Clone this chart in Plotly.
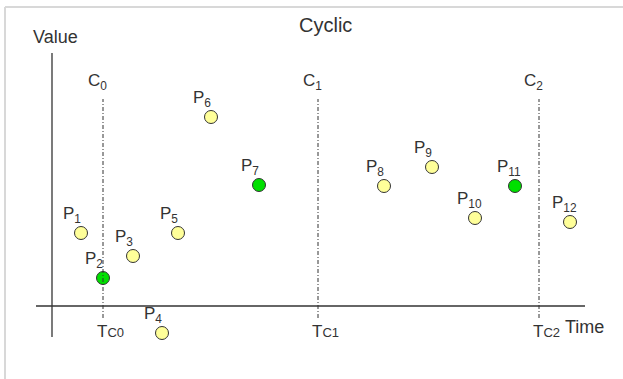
import plotly.graph_objects as go

# sample points (time, value) and which ones fall on a cycle boundary
labels = ['P1', 'P2', 'P3', 'P4', 'P5', 'P6', 'P7', 'P8', 'P9', 'P10', 'P11', 'P12']
times = [29, 51, 81, 110, 126, 159, 207, 332, 380, 423, 463, 518]
values = [73, 28, 50, -27, 73, 189, 121, 120, 139, 88, 120, 84]
on_cycle = [False, True, False, False, False, False, True, False, False, False, True, False]

# cycle boundaries
cycles = ['C0', 'C1', 'C2']
cycle_times = [51, 266, 487]

yellow = '#ffff99'
green = '#00e000'
txt = '#333333'
fnt = 'Liberation Sans, Arial, sans-serif'

fig = go.Figure()

fig.add_trace(go.Scatter(
    x=times, y=values, mode='markers',
    marker=dict(size=13, color=[green if c else yellow for c in on_cycle],
                line=dict(color='#333333', width=1)),
    hoverinfo='skip', showlegend=False))

# border of the drawing area
fig.add_shape(type='line', xref='paper', yref='paper', x0=5/623, x1=1, y0=1-7/379, y1=1-7/379,
              line=dict(color='#d8d8d8', width=2))
fig.add_shape(type='line', xref='paper', yref='paper', x0=5/623, x1=5/623, y0=0, y1=1-7/379,
              line=dict(color='#d8d8d8', width=2))

# axes
fig.add_shape(type='line', x0=0, x1=0, y0=-31, y1=253, line=dict(color='#333333', width=1.3))
fig.add_shape(type='line', x0=-16, x1=533, y0=0, y1=0, line=dict(color='#333333', width=1.3))

for c, t in zip(cycles, cycle_times):
    fig.add_shape(type='line', x0=t, x1=t, y0=-12, y1=207,
                  line=dict(color='#333333', width=1, dash='4px,2px,1px,2px'))
    fig.add_annotation(x=t, y=207, text=c[0] + '<sub>' + c[1:] + '</sub>', showarrow=False,
                       yanchor='bottom', yshift=4, xshift=-6, font=dict(size=17, color=txt, family=fnt))
    fig.add_annotation(x=t, y=-12, text='T<span style="font-size:13px">' + c + '</span>',
                       showarrow=False, yanchor='top', xanchor='left', xshift=-8, yshift=-2,
                       font=dict(size=17, color=txt, family=fnt))

for lab, t, v in zip(labels, times, values):
    fig.add_annotation(x=t, y=v, text=lab[0] + '<sub>' + lab[1:] + '</sub>', showarrow=False,
                       xanchor='left', xshift=-20, yshift=18,
                       font=dict(size=17, color=txt, family=fnt))

fig.add_annotation(x=0, y=253, text='Value', showarrow=False, yanchor='bottom', yshift=4, xshift=3,
                   font=dict(size=18, color=txt, family=fnt))
fig.add_annotation(x=533, y=0, text='Time', showarrow=False, xanchor='left', yanchor='middle',
                   yshift=-21, xshift=-22, font=dict(size=18, color=txt, family=fnt))
fig.add_annotation(x=0.523, y=1-25/379, xref='paper', yref='paper', text='Cyclic', showarrow=False,
                   yanchor='middle', font=dict(size=20, color=txt, family=fnt))

fig.update_xaxes(range=[-52, 571], visible=False)
fig.update_yaxes(range=[-73, 306], visible=False)
fig.update_layout(width=623, height=379, margin=dict(l=0, r=0, t=0, b=0),
                  plot_bgcolor='white', paper_bgcolor='white')

fig.write_html("out.html", config={'displayModeBar': False},
               post_script="document.body.style.margin='0';")
